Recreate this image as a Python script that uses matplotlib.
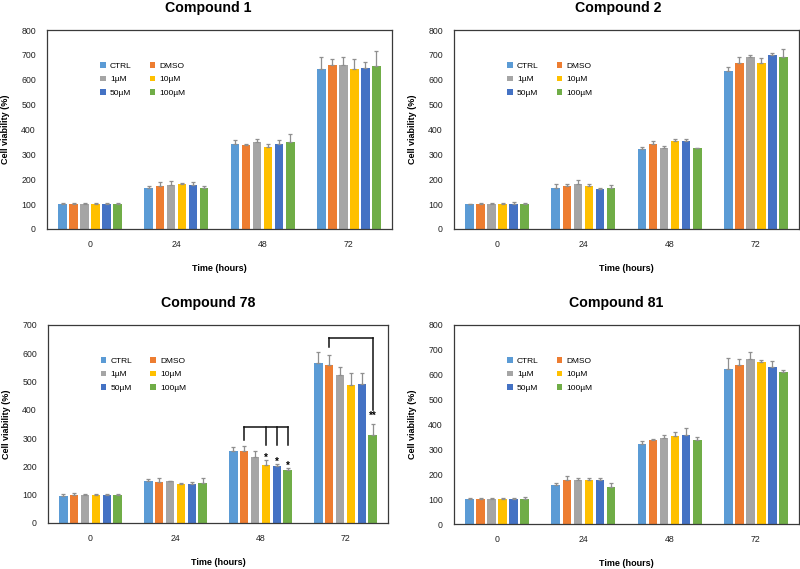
import matplotlib
matplotlib.use("Agg")
import matplotlib.pyplot as plt
import numpy as np

plt.rcParams['font.family'] = ['Liberation Sans', 'DejaVu Sans']

# Time points and treatment groups
time_labels = ["0", "24", "48", "72"]
groups = ["CTRL", "DMSO", "1µM", "10µM", "50µM", "100µM"]
colors = ["#5B9BD5", "#ED7D31", "#A5A5A5", "#FFC000", "#4472C4", "#70AD47"]

# Mean cell viability per time point (rows) and group (columns)
c1_mean = [[100, 100, 100, 100, 100, 100],
           [163, 173, 177, 180, 177, 166],
           [340, 336, 350, 331, 342, 350],
           [643, 658, 658, 643, 649, 655]]
c1_err = [[3, 4, 3, 3, 3, 3],
          [10, 15, 16, 6, 11, 7],
          [17, 6, 10, 9, 15, 31],
          [50, 24, 35, 41, 22, 61]]

c2_mean = [[100, 100, 100, 100, 100, 100],
           [166, 173, 182, 173, 161, 166],
           [322, 340, 324, 355, 355, 324],
           [637, 666, 693, 666, 698, 693]]
c2_err = [[2, 3, 4, 3, 8, 4],
          [14, 8, 16, 8, 2, 10],
          [9, 13, 11, 8, 8, 3],
          [16, 27, 8, 20, 8, 29]]

c78_mean = [[97, 99, 98, 98, 98, 99],
            [149, 144, 147, 138, 137, 141],
            [253, 256, 235, 206, 200, 186],
            [565, 559, 523, 488, 493, 312]]
c78_err = [[7, 7, 5, 5, 5, 5],
           [6, 14, 2, 2, 8, 18],
           [17, 16, 18, 18, 9, 8],
           [41, 35, 27, 44, 36, 37]]

c81_mean = [[100, 100, 100, 100, 100, 100],
            [156, 178, 178, 178, 178, 150],
            [323, 337, 344, 353, 356, 337],
            [623, 641, 665, 651, 631, 612]]
c81_err = [[3, 3, 4, 3, 3, 8],
           [9, 15, 7, 8, 7, 15],
           [10, 5, 14, 16, 28, 11],
           [46, 24, 26, 9, 24, 9]]

panels = [
    ("Compound 1", c1_mean, c1_err, 800),
    ("Compound 2", c2_mean, c2_err, 800),
    ("Compound 78", c78_mean, c78_err, 700),
    ("Compound 81", c81_mean, c81_err, 800),
]

# axes positions in figure pixels (left, top, right, bottom)
boxes = [(47, 30, 392, 229), (454, 30, 799, 229),
         (48, 325, 388, 523), (454, 325, 799, 524)]
title_x = [0.467, 0.475, 0.47, 0.47]

W, H = 800, 569
fig = plt.figure(figsize=(W / 100, H / 100), dpi=100)

step = 0.128
bar_w = 0.10
x = np.arange(len(time_labels))

axes = []
for k, (title, mean, err, ymax) in enumerate(panels):
    l, t, r, b = boxes[k]
    ax = fig.add_axes([l / W, 1 - b / H, (r - l) / W, (b - t) / H])
    axes.append(ax)
    mean = np.array(mean)
    err = np.array(err)
    handles = []
    for j, g in enumerate(groups):
        pos = x + (j - 2.5) * step
        h = ax.bar(pos, mean[:, j], width=bar_w, color=colors[j], label=g, zorder=2)
        ax.errorbar(pos, mean[:, j], yerr=[np.zeros(len(x)), err[:, j]], fmt='none',
                    ecolor='#8f8f8f', elinewidth=0.9, capsize=1.6, capthick=0.9, zorder=3)
        handles.append(h)
    ax.set_xlim(-0.5, 3.5)
    ax.set_ylim(0, ymax)
    ax.set_yticks(np.arange(0, ymax + 1, 100))
    ax.set_xticks(x)
    ax.set_xticklabels(time_labels)
    ax.tick_params(length=0, labelsize=6.3, colors='#222222', pad=8)
    for s in ax.spines.values():
        s.set_color('#3a3a3a')
        s.set_linewidth(0.9)
    ax.set_xlabel("Time (hours)", fontsize=6.5, fontweight='bold')
    ax.xaxis.set_label_coords(0.5, -0.175)
    ax.set_ylabel("Cell viability (%)", fontsize=6.5, fontweight='bold')
    ax.yaxis.set_label_coords(-0.108, 0.5)
    ax.text(title_x[k], 1.11, title, transform=ax.transAxes, ha='center', va='center',
            fontsize=10.2, fontweight='bold')
    order = [0, 2, 4, 1, 3, 5]
    ax.legend([handles[i] for i in order], [groups[i] for i in order], ncol=2,
              loc='upper left', bbox_to_anchor=(0.145, 0.855), frameon=False,
              fontsize=6, handlelength=0.65, handleheight=0.65, handletextpad=0.5,
              columnspacing=2.2, labelspacing=0.7, borderaxespad=0)

# significance brackets for compound 78
ax = axes[2]
m78 = np.array(c78_mean)
e78 = np.array(c78_err)
pos_of = lambda t, j: t + (j - 2.5) * step

# 48 h: DMSO vs 10, 50, 100 µM
br_y = 341
ax.plot([pos_of(2, 1), pos_of(2, 5)], [br_y, br_y], color='#111111', lw=1.1)
ax.plot([pos_of(2, 1), pos_of(2, 1)], [br_y, 294], color='#111111', lw=1.1)
for j in [3, 4, 5]:
    ax.plot([pos_of(2, j), pos_of(2, j)], [br_y, 276], color='#111111', lw=1.1)
    ax.text(pos_of(2, j), m78[2, j] + e78[2, j] + 8, "*", ha='center', va='center',
            fontsize=7, fontweight='bold')

# 72 h: DMSO vs 100 µM
br_y = 655
ax.plot([pos_of(3, 1), pos_of(3, 5)], [br_y, br_y], color='#111111', lw=1.1)
ax.plot([pos_of(3, 1), pos_of(3, 1)], [br_y, 623], color='#111111', lw=1.1)
ax.plot([pos_of(3, 5), pos_of(3, 5)], [br_y, 400], color='#111111', lw=1.1)
ax.text(pos_of(3, 5), 378, "**", ha='center', va='center', fontsize=7, fontweight='bold')

fig.savefig("out.png", dpi=100)
